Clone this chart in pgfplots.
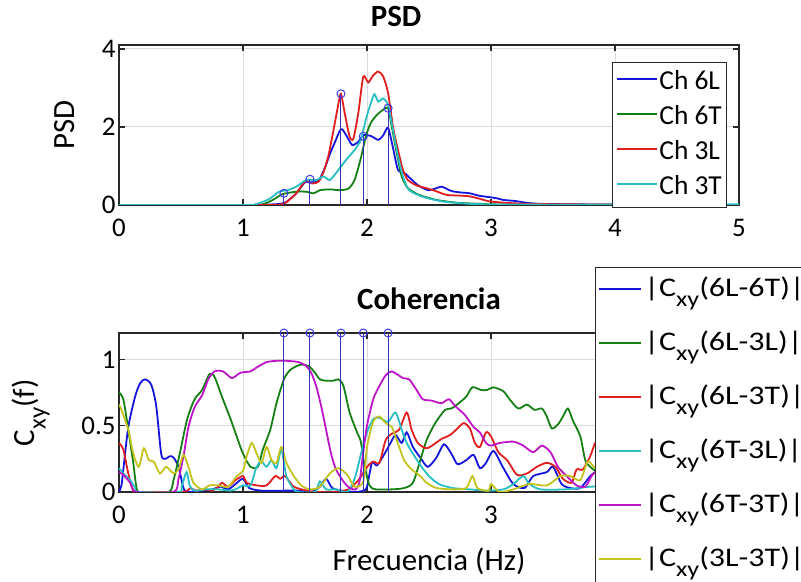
\documentclass[border=0pt]{standalone}
\usepackage{graphicx}
\usepackage{pgfplots}
\pgfplotsset{compat=1.18}
\usepackage{fontspec}
\setmainfont{Carlito}
% lowered, slightly reduced subscript
\newcommand\lsub[2]{\raisebox{#2}{\fontsize{#1}{#1}\selectfont xy}}
% coherence legend entry, set a little wider
\newcommand\cxy[1]{\scalebox{1.19}[1]{|C\lsub{22}{-10bp}(#1)|}}

\definecolor{colB}{RGB}{20,20,220}
\definecolor{colG}{RGB}{20,128,20}
\definecolor{colR}{RGB}{225,30,30}
\definecolor{colC}{RGB}{40,190,195}
\definecolor{colM}{RGB}{190,20,200}
\definecolor{colY}{RGB}{195,195,30}
\definecolor{stem}{RGB}{50,50,185}
\definecolor{ring}{RGB}{60,60,230}
\definecolor{axc}{RGB}{40,40,40}
\definecolor{gridc}{RGB}{218,218,218}

\pgfplotsset{
  common/.style={
    scale only axis, width=620bp,
    xmin=0, xmax=5, xtick={0,1,2,3,4,5},
    axis line style={axc, line width=1.4bp},
    tick align=inside, major tick length=6bp,
    tick style={axc, line width=1.2bp},
    grid=major, grid style={gridc, line width=0.9bp},
    ticklabel style={font=\fontsize{27}{30}\selectfont},
    /pgf/number format/assume math mode=true,
    xticklabel style={yshift=-11bp},
    label style={font=\fontsize{31}{34}\selectfont},
    title style={font=\bfseries\fontsize{31}{34}\selectfont, anchor=base},
    legend cell align=left,
    legend image code/.code={\draw[##1] (0bp,0.33em) -- (40bp,0.33em);},
    every axis plot/.append style={line width=1.8bp},
  },
  stemline/.style={ycomb, stem, line width=1bp, mark=o, mark size=4bp,
    mark options={ring, line width=1bp}, forget plot},
}

\begin{document}
\begin{tikzpicture}
\useasboundingbox (0,0) rectangle (801bp,582bp);
\clip (0,0) rectangle (801bp,582bp);

% Power spectral density of the four channels
\begin{axis}[common,
  at={(119bp,377bp)}, anchor=south west, height=160bp,
  ymin=0, ymax=4.1, ytick={0,2,4},
  title={PSD}, title style={at={(axis description cs:0.447,1)}, yshift=13bp},
  ylabel={PSD}, ylabel style={at={(axis description cs:-0.087,0.5)}, anchor=center},
  legend style={at={(axis description cs:0.7952,0.8938)}, anchor=north west,
    draw=axc, line width=1.2bp, fill=white, inner xsep=3bp, inner ysep=7.5bp,
    row sep=10bp, font=\fontsize{27.5}{30}\selectfont,
    nodes={inner xsep=2bp, inner ysep=0bp, text height=19bp, text depth=6bp}},
]
\addplot[colB, smooth, tension=0.4] coordinates {
(0,0) (1.0,0) (1.2,0.01) (1.3,0.03) (1.35,0.08) (1.43,0.3) (1.5,0.58) (1.56,0.58)
(1.61,0.62) (1.66,0.95) (1.70,1.3) (1.74,1.6) (1.78,1.9) (1.80,1.94) (1.83,1.8)
(1.88,1.54) (1.93,1.62) (1.97,1.79) (2.03,1.77) (2.09,1.67) (2.13,1.78) (2.17,1.98)
(2.21,1.46) (2.25,0.9) (2.31,0.8) (2.36,0.65) (2.41,0.51) (2.49,0.38) (2.55,0.42)
(2.6,0.47) (2.65,0.4) (2.69,0.35) (2.76,0.32) (2.83,0.3) (2.9,0.24) (2.99,0.2)
(3.05,0.17) (3.1,0.13) (3.2,0.1) (3.3,0.05) (3.4,0.03) (3.6,0.02) (4,0.01) (5,0)};
\addlegendentry{Ch 6L}
\addplot[colG, smooth, tension=0.4] coordinates {
(0,0) (1.05,0) (1.16,0.02) (1.24,0.13) (1.32,0.28) (1.43,0.34) (1.51,0.34) (1.57,0.3)
(1.62,0.38) (1.70,0.4) (1.78,0.38) (1.85,0.42) (1.90,0.64) (1.95,1.2) (1.99,1.75)
(2.03,2.1) (2.08,2.31) (2.13,2.44) (2.17,2.48) (2.20,2.0) (2.24,1.33) (2.28,0.73)
(2.33,0.43) (2.42,0.26) (2.56,0.13) (2.72,0.06) (2.91,0.03) (3.2,0.01) (5,0)};
\addlegendentry{Ch 6T}
\addplot[colR, smooth, tension=0.4] coordinates {
(0,0) (1.25,0) (1.3,0.01) (1.34,0.05) (1.38,0.15) (1.43,0.3) (1.50,0.6) (1.56,0.55)
(1.61,0.6) (1.65,0.85) (1.69,1.28) (1.73,1.92) (1.77,2.6) (1.79,2.85) (1.82,2.36)
(1.86,1.75) (1.89,1.7) (1.93,2.36) (1.97,3.29) (2.01,3.14) (2.05,3.32) (2.09,3.42)
(2.13,3.3) (2.17,2.87) (2.21,2.0) (2.25,1.41) (2.29,0.9) (2.33,0.64) (2.40,0.5)
(2.48,0.43) (2.56,0.35) (2.64,0.26) (2.75,0.24) (2.83,0.22) (2.92,0.15) (2.99,0.09)
(3.15,0.05) (3.3,0.03) (3.5,0.02) (4,0.01) (5,0)};
\addlegendentry{Ch 3L}
\addplot[colC, smooth, tension=0.4] coordinates {
(0,0) (1.0,0) (1.1,0.02) (1.21,0.15) (1.29,0.34) (1.36,0.38) (1.43,0.47) (1.51,0.64)
(1.59,0.64) (1.65,0.73) (1.70,0.64) (1.77,0.9) (1.83,1.15) (1.90,1.41) (1.95,1.67)
(1.99,2.18) (2.03,2.6) (2.06,2.84) (2.09,2.65) (2.13,2.73) (2.17,2.56) (2.21,1.92)
(2.25,1.24) (2.29,0.73) (2.34,0.38) (2.45,0.21) (2.61,0.09) (2.83,0.03) (3.1,0.01)
(4.5,0.01) (5,0.02)};
\addlegendentry{Ch 3T}
% picked peaks
\addplot[stemline] coordinates {(1.33,0.3) (1.54,0.66) (1.79,2.85) (1.97,1.76) (2.17,2.48)};
\end{axis}

% Magnitude-squared coherence between channel pairs
\begin{axis}[common,
  at={(119bp,90bp)}, anchor=south west, height=159bp,
  ymin=0, ymax=1.2, ytick={0,0.5,1},
  xticklabels={0,1,2,3,{},{}},
  title={Coherencia}, title style={at={(axis description cs:0.5,1)}, yshift=18bp},
  xlabel={Frecuencia (Hz)}, xlabel style={at={(axis description cs:0.5,0)}, anchor=base, yshift=-78bp},
  ylabel={C\lsub{25}{-11bp}(f)}, ylabel style={at={(axis description cs:-0.142,0.5)}, anchor=center},
  legend style={at={(axis description cs:0.7677,1.415)}, anchor=north west,
    draw=axc, line width=1.2bp, fill=white, inner xsep=3bp, inner ysep=9bp,
    row sep=22bp, font=\fontsize{27}{30}\selectfont,
    nodes={inner xsep=2bp, inner ysep=0bp, text height=20bp, text depth=12bp}},
  legend image code/.code={\draw[#1] (0bp,0.33em) -- (42bp,0.33em);},
]
\addplot[colB, smooth, tension=0.45] coordinates {
(0,0) (0.02,0.05) (0.035,0.17) (0.075,0.49) (0.13,0.72) (0.17,0.82) (0.21,0.85)
(0.26,0.81) (0.30,0.65) (0.34,0.29) (0.37,0.25) (0.41,0.27) (0.44,0.26) (0.48,0.19)
(0.52,0.03) (0.55,0) (0.65,0.01) (0.75,0.02) (0.82,0.04) (0.88,0.02) (0.94,0.06)
(1.0,0.1) (1.05,0.03) (1.15,0.01) (1.3,0.01) (1.45,0.01) (1.55,0) (1.62,0.04)
(1.67,0.1) (1.72,0.03) (1.8,0.01) (1.9,0) (1.97,0.01) (2.0,0.04) (2.04,0.22)
(2.08,0.2) (2.13,0.27) (2.19,0.37) (2.23,0.43) (2.28,0.37) (2.32,0.45) (2.37,0.34)
(2.43,0.26) (2.49,0.19) (2.56,0.26) (2.62,0.36) (2.68,0.29) (2.73,0.21) (2.8,0.24)
(2.86,0.28) (2.91,0.18) (2.96,0.22) (3.02,0.31) (3.1,0.18) (3.18,0.06) (3.27,0.03)
(3.34,0.12) (3.45,0.15) (3.50,0.19) (3.57,0.06) (3.64,0.03) (3.72,0.03) (3.8,0.12)
(3.84,0.15) (3.9,0.2)};
\addlegendentry{\cxy{6L-6T}}
\addplot[colG, smooth, tension=0.45] coordinates {
(0,0.75) (0.035,0.70) (0.075,0.47) (0.115,0.22) (0.14,0.04) (0.17,0) (0.40,0)
(0.44,0.09) (0.49,0.29) (0.55,0.55) (0.61,0.70) (0.67,0.77) (0.73,0.89) (0.77,0.87)
(0.83,0.72) (0.90,0.55) (0.96,0.39) (1.0,0.29) (1.06,0.19) (1.12,0.19) (1.16,0.32)
(1.22,0.47) (1.27,0.67) (1.33,0.85) (1.38,0.92) (1.46,0.96) (1.53,0.95) (1.58,0.90)
(1.62,0.85) (1.67,0.84) (1.73,0.84) (1.77,0.85) (1.81,0.8) (1.86,0.6) (1.92,0.45)
(1.95,0.38) (1.98,0.2) (2.02,0.05) (2.07,0.02) (2.2,0.02) (2.3,0.03) (2.37,0.07)
(2.43,0.24) (2.48,0.39) (2.55,0.52) (2.63,0.62) (2.68,0.63) (2.74,0.67) (2.8,0.72)
(2.85,0.79) (2.92,0.77) (2.97,0.77) (3.02,0.79) (3.1,0.76) (3.15,0.70) (3.22,0.63)
(3.29,0.66) (3.35,0.62) (3.41,0.63) (3.45,0.57) (3.49,0.48) (3.54,0.51) (3.58,0.57)
(3.62,0.63) (3.66,0.54) (3.72,0.42) (3.76,0.24) (3.80,0.19) (3.84,0.16) (3.9,0.12)};
\addlegendentry{\cxy{6L-3L}}
\addplot[colR, smooth, tension=0.45] coordinates {
(0,0.37) (0.035,0.32) (0.075,0.14) (0.115,0.01) (0.15,0) (0.5,0) (0.55,0.01)
(0.58,0.03) (0.62,0.01) (0.7,0.02) (0.75,0.01) (0.8,0.04) (0.83,0.07) (0.88,0.04)
(0.94,0.09) (1.0,0.12) (1.03,0.07) (1.11,0.05) (1.19,0.05) (1.26,0.12) (1.30,0.1)
(1.34,0.12) (1.41,0.04) (1.52,0.01) (1.6,0) (1.75,0) (1.85,0.02) (1.89,0.05)
(1.94,0.1) (2.0,0.19) (2.05,0.23) (2.1,0.22) (2.15,0.39) (2.2,0.44) (2.26,0.47)
(2.32,0.6) (2.36,0.47) (2.41,0.37) (2.48,0.33) (2.54,0.36) (2.6,0.4) (2.67,0.43)
(2.73,0.48) (2.78,0.52) (2.83,0.48) (2.87,0.37) (2.91,0.34) (2.96,0.45) (3.0,0.42)
(3.06,0.3) (3.13,0.24) (3.21,0.13) (3.29,0.14) (3.37,0.19) (3.45,0.22) (3.52,0.19)
(3.58,0.1) (3.65,0.07) (3.69,0.17) (3.74,0.17) (3.8,0.27) (3.84,0.37) (3.9,0.45)};
\addlegendentry{\cxy{6L-3T}}
\addplot[colC, smooth, tension=0.45] coordinates {
(0,0.18) (0.035,0.14) (0.09,0.09) (0.13,0.03) (0.16,0) (0.48,0) (0.505,0.04)
(0.545,0.15) (0.57,0.05) (0.61,0.01) (0.7,0.02) (0.8,0.02) (0.9,0.01) (0.94,0.02)
(1.0,0.05) (1.06,0.05) (1.11,0.19) (1.15,0.23) (1.19,0.19) (1.23,0.24) (1.27,0.18)
(1.31,0.32) (1.35,0.12) (1.41,0.02) (1.45,0) (1.58,0) (1.62,0.08) (1.67,0.02)
(1.75,0.02) (1.84,0) (1.9,0.1) (1.96,0.32) (2.0,0.45) (2.05,0.55) (2.1,0.56)
(2.17,0.53) (2.23,0.6) (2.28,0.47) (2.32,0.37) (2.37,0.29) (2.44,0.19) (2.5,0.12)
(2.58,0.06) (2.69,0.03) (2.83,0.02) (2.96,0.01) (3.1,0.02) (3.18,0.06) (3.26,0.12)
(3.31,0.06) (3.4,0.02) (3.6,0.02) (3.8,0.04) (3.9,0.04)};
\addlegendentry{\cxy{6T-3L}}
\addplot[colM, smooth, tension=0.45] coordinates {
(0,0.15) (0.035,0.13) (0.09,0.07) (0.14,0) (0.44,0) (0.48,0.1) (0.52,0.27)
(0.56,0.49) (0.61,0.64) (0.67,0.73) (0.72,0.85) (0.77,0.91) (0.84,0.91) (0.91,0.86)
(0.98,0.9) (1.06,0.91) (1.11,0.94) (1.19,0.98) (1.27,0.99) (1.35,0.99) (1.45,0.98)
(1.51,0.95) (1.55,0.9) (1.59,0.8) (1.63,0.65) (1.67,0.47) (1.71,0.29) (1.75,0.17)
(1.81,0.08) (1.86,0.03) (1.91,0.02) (1.94,0.08) (1.97,0.3) (2.0,0.5) (2.05,0.7)
(2.1,0.8) (2.15,0.88) (2.2,0.91) (2.29,0.86) (2.34,0.85) (2.4,0.77) (2.45,0.7)
(2.52,0.69) (2.6,0.67) (2.66,0.7) (2.71,0.65) (2.79,0.58) (2.86,0.49) (2.91,0.45)
(2.96,0.37) (3.0,0.35) (3.07,0.37) (3.18,0.38) (3.26,0.35) (3.34,0.3) (3.41,0.35)
(3.48,0.3) (3.54,0.19) (3.61,0.12) (3.69,0.05) (3.76,0.04) (3.81,0.12) (3.84,0.15)
(3.9,0.2)};
\addlegendentry{\cxy{6T-3T}}
\addplot[colY, smooth, tension=0.45] coordinates {
(0,0.66) (0.02,0.62) (0.075,0.47) (0.115,0.29) (0.16,0.19) (0.2,0.33) (0.24,0.24)
(0.28,0.23) (0.33,0.14) (0.38,0.19) (0.44,0.14) (0.48,0.17) (0.52,0.28) (0.56,0.19)
(0.6,0.07) (0.67,0.02) (0.73,0.05) (0.8,0.05) (0.88,0.04) (0.95,0.12) (1.0,0.16)
(1.03,0.27) (1.07,0.37) (1.11,0.29) (1.15,0.22) (1.19,0.34) (1.23,0.24) (1.27,0.22)
(1.31,0.34) (1.35,0.22) (1.41,0.12) (1.47,0.05) (1.54,0.02) (1.62,0.04) (1.7,0.14)
(1.77,0.18) (1.84,0.13) (1.9,0.04) (1.97,0.08) (2.0,0.34) (2.05,0.53) (2.1,0.57)
(2.15,0.52) (2.2,0.49) (2.24,0.39) (2.3,0.24) (2.36,0.17) (2.43,0.12) (2.48,0.07)
(2.56,0.03) (2.69,0.02) (2.8,0.03) (2.85,0.12) (2.89,0.03) (2.98,0.01) (3.0,0.06)
(3.07,0) (3.18,0.02) (3.31,0.06) (3.45,0.05) (3.56,0.12) (3.64,0.12) (3.72,0.09)
(3.78,0.23) (3.83,0.19) (3.9,0.15)};
\addlegendentry{\cxy{3L-3T}}
% frequencies of the picked peaks
\addplot[stemline] coordinates {(1.33,1.2) (1.54,1.2) (1.79,1.2) (1.97,1.2) (2.17,1.2)};
\end{axis}
\end{tikzpicture}
\end{document}
